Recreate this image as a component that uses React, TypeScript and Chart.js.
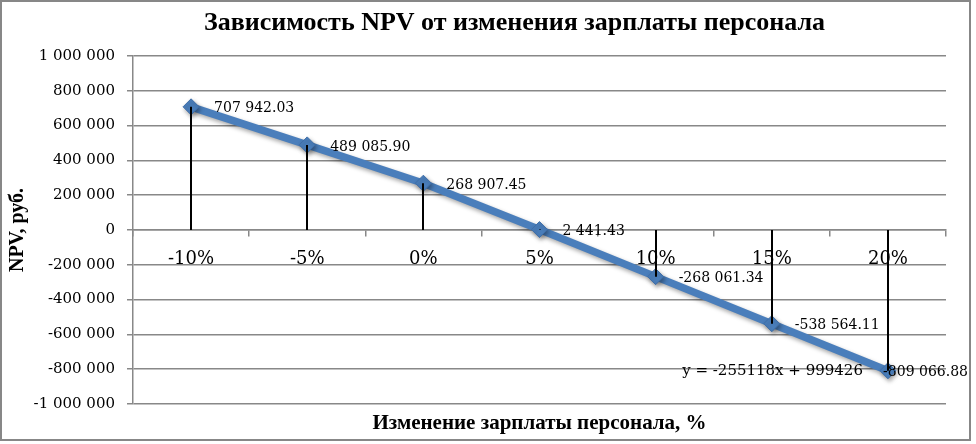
import { useEffect, useRef } from "react";
import { Chart, registerables } from "chart.js";

Chart.register(...registerables);

const categories = ["-10%", "-5%", "0%", "5%", "10%", "15%", "20%"];
const npvValues = [707942.03, 489085.9, 268907.45, 2441.43, -268061.34, -538564.11, -809066.88];
const valueLabels = ["707 942.03", "489 085.90", "268 907.45", "2 441.43", "-268 061.34", "-538 564.11", "-809 066.88"];
const trendEquation = "y = -255118x + 999426";
const chartTitle = "Зависимость NPV от изменения зарплаты персонала";
const xAxisTitle = "Изменение зарплаты персонала, %";
const yAxisTitle = "NPV, руб.";
const yMin = -1000000;
const yMax = 1000000;
const yStep = 200000;

const SERIF = "'DejaVu Serif', serif";
const TITLE_SERIF = "'Liberation Serif', serif";

function formatThousands(v: number): string {
  const sign = v < 0 ? "-" : "";
  const s = Math.round(Math.abs(v)).toString().replace(/\B(?=(\d{3})+(?!\d))/g, " ");
  return sign + s;
}

const framePlugin = {
  id: "frame",
  beforeDraw(chart: any) {
    const { ctx, width, height } = chart;
    ctx.save();
    ctx.fillStyle = "#ffffff";
    ctx.fillRect(0, 0, width, height);
    ctx.strokeStyle = "#878787";
    ctx.lineWidth = 2;
    ctx.strokeRect(1, 1, width - 7, height - 5);
    ctx.restore();
  },
  afterDraw(chart: any) {
    const { ctx, chartArea } = chart;
    ctx.save();
    ctx.fillStyle = "#000";
    ctx.textAlign = "center";
    ctx.textBaseline = "middle";
    ctx.font = `bold 26px ${TITLE_SERIF}`;
    ctx.fillText(chartTitle, (chartArea.left + chartArea.right) / 2 - 25, 23);
    ctx.font = `bold 21px ${TITLE_SERIF}`;
    ctx.fillText(xAxisTitle, (chartArea.left + chartArea.right) / 2, chartArea.bottom + 20);
    ctx.restore();
  },
};

const shadowPlugin = {
  id: "lineShadow",
  beforeDatasetsDraw(chart: any) {
    const ctx = chart.ctx;
    ctx.save();
    ctx.shadowColor = "rgba(0,0,0,0.35)";
    ctx.shadowBlur = 4;
    ctx.shadowOffsetX = 1.5;
    ctx.shadowOffsetY = 2.5;
  },
  afterDatasetsDraw(chart: any) {
    chart.ctx.restore();
  },
};

const annotationsPlugin = {
  id: "dropLinesLabels",
  afterDatasetsDraw(chart: any) {
    const { ctx } = chart;
    const meta = chart.getDatasetMeta(0);
    const y0 = chart.scales.y.getPixelForValue(0);
    ctx.save();
    ctx.strokeStyle = "#000";
    ctx.lineWidth = 2;
    meta.data.forEach((pt: any) => {
      ctx.beginPath();
      ctx.moveTo(Math.round(pt.x), pt.y);
      ctx.lineTo(Math.round(pt.x), y0);
      ctx.stroke();
    });
    ctx.fillStyle = "#000";
    ctx.textAlign = "left";
    ctx.textBaseline = "middle";
    ctx.font = `14px ${SERIF}`;
    const maxRight = chart.width - 8;
    meta.data.forEach((pt: any, i: number) => {
      const w = ctx.measureText(valueLabels[i]).width;
      const x = Math.min(pt.x + 23, maxRight - w);
      ctx.fillText(valueLabels[i], x, pt.y + 2);
    });
    const last = meta.data[meta.data.length - 1];
    ctx.font = `15px ${SERIF}`;
    ctx.textAlign = "right";
    ctx.fillText(trendEquation, last.x - 25, last.y);
    ctx.restore();
  },
};

export default function App() {
  const canvasRef = useRef<HTMLCanvasElement | null>(null);

  useEffect(() => {
    if (!canvasRef.current) return;
    const chart = new Chart(canvasRef.current, {
      type: "line",
      data: {
        labels: categories,
        datasets: [
          {
            label: "NPV",
            data: npvValues,
            borderColor: "#4A7EBB",
            backgroundColor: "#4A7EBB",
            borderWidth: 7.5,
            pointStyle: "rectRot",
            pointRadius: 8,
            pointBorderWidth: 1,
            pointBorderColor: "#3F6EA8",
            pointBackgroundColor: "#4A7EBB",
            tension: 0,
            fill: false,
          },
        ],
      },
      options: {
        animation: false,
        responsive: false,
        maintainAspectRatio: false,
        devicePixelRatio: 1,
        layout: { padding: { top: 56, bottom: 40, left: 0, right: 30 } },
        plugins: {
          legend: { display: false },
          title: { display: false },
          tooltip: { enabled: false },
        },
        scales: {
          x: {
            type: "category",
            position: { y: 0 } as any,
            offset: true,
            grid: {
              display: true,
              drawOnChartArea: false,
              drawTicks: true,
              tickLength: 6,
              color: "#888888",
              lineWidth: 1.5,
              offset: true,
            },
            border: { display: true, color: "#888888", width: 1.5 },
            ticks: {
              font: { family: SERIF, size: 18 },
              color: "#000",
              padding: 13,
              maxRotation: 0,
              autoSkip: false,
            },
          },
          y: {
            min: yMin,
            max: yMax,
            ticks: {
              stepSize: yStep,
              font: { family: SERIF, size: 15 },
              color: "#000",
              padding: 12,
              callback: (v: any) => formatThousands(Number(v)),
            },
            grid: {
              color: "#888888",
              lineWidth: 1.5,
              tickLength: 6,
              drawTicks: true,
            },
            border: { display: true, color: "#888888", width: 1.5 },
            title: {
              display: true,
              text: yAxisTitle,
              color: "#000",
              font: { family: TITLE_SERIF, size: 20, weight: "bold" },
              padding: { top: 6, bottom: 0 },
            },
            afterFit: (scale: any) => {
              scale.width = 133;
            },
          },
        },
      },
      plugins: [framePlugin, shadowPlugin, annotationsPlugin],
    });
    return () => chart.destroy();
  }, []);

  return (
    <div style={{ position: "fixed", left: 0, top: 0, width: 976, height: 444, background: "#fff" }}>
      <canvas ref={canvasRef} width={976} height={444} style={{ display: "block", width: 976, height: 444 }} />
    </div>
  );
}
